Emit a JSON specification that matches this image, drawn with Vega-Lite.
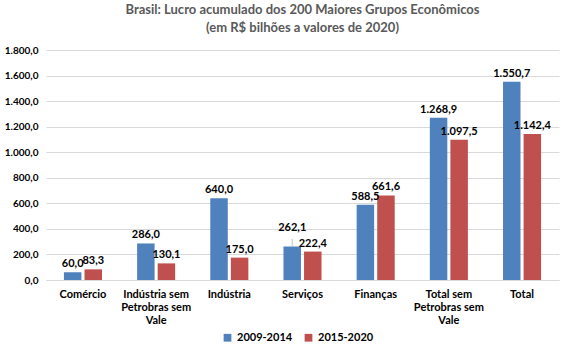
{
  "$schema": "https://vega.github.io/schema/vega-lite/v6.json",
  "width": 513,
  "height": 230,
  "autosize": {"type": "none"},
  "padding": {"left": 46, "top": 50, "right": 9, "bottom": 74},
  "background": "white",
  "config": {
    "locale": {"number": {"decimal": ",", "thousands": ".", "grouping": [3], "currency": ["R$", ""]}},
    "view": {"stroke": null},
    "font": "Lato"
  },
  "title": {
    "text": ["Brasil: Lucro acumulado dos 200 Maiores Grupos Econômicos", "(em R$ bilhões a valores de 2020)"],
    "fontSize": 13,
    "fontWeight": "bold",
    "color": "#595959",
    "anchor": "middle",
    "offset": 10,
    "lineHeight": 18
  },
  "data": {
    "values": [
      {"categoria": "Comércio", "periodo": "2009-2014", "valor": 60.0},
      {"categoria": "Comércio", "periodo": "2015-2020", "valor": 83.3},
      {"categoria": "Indústria sem Petrobras sem Vale", "periodo": "2009-2014", "valor": 286.0},
      {"categoria": "Indústria sem Petrobras sem Vale", "periodo": "2015-2020", "valor": 130.1},
      {"categoria": "Indústria", "periodo": "2009-2014", "valor": 640.0},
      {"categoria": "Indústria", "periodo": "2015-2020", "valor": 175.0},
      {"categoria": "Serviços", "periodo": "2009-2014", "valor": 262.1},
      {"categoria": "Serviços", "periodo": "2015-2020", "valor": 222.4},
      {"categoria": "Finanças", "periodo": "2009-2014", "valor": 588.5},
      {"categoria": "Finanças", "periodo": "2015-2020", "valor": 661.6},
      {"categoria": "Total sem Petrobras sem Vale", "periodo": "2009-2014", "valor": 1268.9},
      {"categoria": "Total sem Petrobras sem Vale", "periodo": "2015-2020", "valor": 1097.5},
      {"categoria": "Total", "periodo": "2009-2014", "valor": 1550.7},
      {"categoria": "Total", "periodo": "2015-2020", "valor": 1142.4}
    ]
  },
  "encoding": {
    "x": {
      "field": "categoria",
      "type": "nominal",
      "sort": null,
      "scale": {"paddingInner": 0.48, "paddingOuter": 0.245},
      "axis": {
        "title": null,
        "labelAngle": 0,
        "ticks": false,
        "domainColor": "#d9d9d9",
        "labelFontSize": 11,
        "labelFontWeight": "bold",
        "labelColor": "#000000",
        "labelPadding": 8,
        "labelLineHeight": 13,
        "labelBaseline": "top",
        "labelExpr": "datum.label == 'Indústria sem Petrobras sem Vale' ? ['Indústria sem', 'Petrobras sem', 'Vale'] : datum.label == 'Total sem Petrobras sem Vale' ? ['Total sem', 'Petrobras sem', 'Vale'] : datum.label"
      }
    },
    "xOffset": {"field": "periodo", "type": "nominal", "scale": {"paddingInner": 0.15}},
    "y": {
      "field": "valor",
      "type": "quantitative",
      "scale": {"domain": [0, 1800]},
      "axis": {
        "title": null,
        "values": [0, 200, 400, 600, 800, 1000, 1200, 1400, 1600, 1800],
        "format": ",.1f",
        "domain": false,
        "ticks": false,
        "gridColor": "#d9d9d9",
        "labelFontSize": 10,
        "labelFontWeight": "bold",
        "labelColor": "#000000",
        "labelPadding": 8
      }
    }
  },
  "layer": [
    {
      "mark": {"type": "bar"},
      "encoding": {
        "color": {
          "field": "periodo",
          "type": "nominal",
          "scale": {"domain": ["2009-2014", "2015-2020"], "range": ["#4f81bd", "#c0504d"]},
          "legend": {
            "title": null,
            "orient": "none",
            "direction": "horizontal",
            "legendX": 176,
            "legendY": 282,
            "symbolType": "square",
            "symbolSize": 60,
            "symbolStrokeWidth": 0,
            "labelFontSize": 11,
            "labelFontWeight": "bold",
            "labelColor": "#000000",
            "columnPadding": 10
          }
        }
      }
    },
    {
      "transform": [{"filter": "!(datum.categoria == 'Serviços' && datum.periodo == '2009-2014')"}],
      "mark": {"type": "text", "baseline": "bottom", "dy": -3, "fontSize": 11, "fontWeight": "bold", "color": "#000000"},
      "encoding": {
        "text": {"field": "valor", "type": "quantitative", "format": ",.1f"}
      }
    },
    {
      "transform": [{"filter": "datum.categoria == 'Serviços' && datum.periodo == '2009-2014'"}],
      "mark": {"type": "text", "baseline": "bottom", "dy": -14, "fontSize": 11, "fontWeight": "bold", "color": "#000000"},
      "encoding": {
        "text": {"field": "valor", "type": "quantitative", "format": ",.1f"}
      }
    },
    {
      "transform": [{"filter": "datum.categoria == 'Serviços' && datum.periodo == '2009-2014'"}],
      "mark": {"type": "tick", "orient": "vertical", "thickness": 1, "size": 7, "yOffset": -4, "color": "#a6a6a6"},
      "encoding": {}
    }
  ]
}
